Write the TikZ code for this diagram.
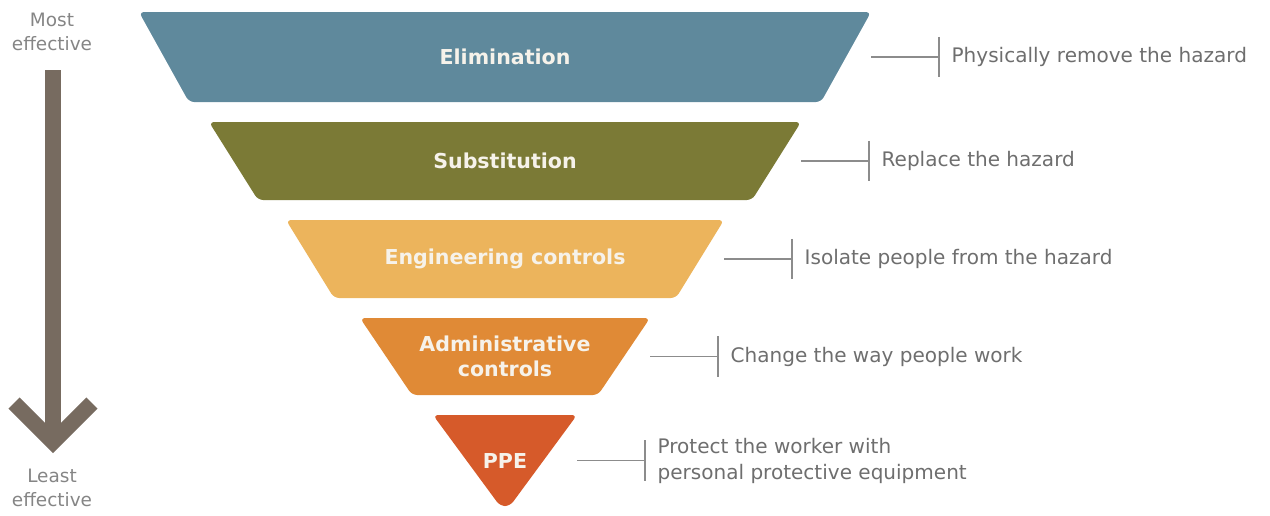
\documentclass[tikz,border=0pt]{standalone}
\usepackage{fontspec}
\setmainfont{DejaVu Sans}
\usetikzlibrary{positioning}

\definecolor{elimblue}{HTML}{5F899C}
\definecolor{substolive}{HTML}{7B7A36}
\definecolor{engamber}{HTML}{ECB45C}
\definecolor{adminorange}{HTML}{E08A36}
\definecolor{ppered}{HTML}{D65A2A}
\definecolor{arrowbrown}{HTML}{776B60}
\definecolor{hintgray}{HTML}{6E6E6E}
\definecolor{sidegray}{HTML}{858585}
\definecolor{linegray}{HTML}{8C8C8C}
\definecolor{labelwhite}{HTML}{F6F2EA}

\tikzset{
    level/.style={font=\fontsize{11.7}{14.5}\selectfont\bfseries, text=labelwhite, align=center},
    hint/.style={font=\fontsize{11.4}{14.8}\selectfont, text=hintgray, align=left, anchor=west, inner sep=0pt},
    side/.style={font=\fontsize{10.5}{14}\selectfont, text=sidegray, align=center},
    bracket/.style={draw=linegray, line width=0.8pt},
}

\begin{document}
\begin{tikzpicture}[x=0.02cm, y=-0.02cm]
        \useasboundingbox (0,0) rectangle (1270,515);

        % effectiveness arrow
        \node[side] (most) at (52,32) {Most\\effective};
        \node[side] (least) at (52,488) {Least\\effective};
        \coordinate (shafttop) at (53,70);
        \coordinate (shaftend) at (53,442);
        \coordinate (headleft) at (14,403);
        \coordinate (headright) at (92,403);
        \draw[arrowbrown, line width=9pt] (shafttop) -- (shaftend);
        \draw[arrowbrown, line width=9pt, miter limit=4] (headleft) -- (shaftend) -- (headright);

        % levels of the pyramid
        \foreach \nm/\ya/\yb/\wa/\wb/\fillc/\lbl/\desc in {
            elim/12/102/366/316/elimblue/Elimination/Physically remove the hazard,
            subst/122/200/296/247/substolive/Substitution/Replace the hazard,
            eng/220/298/219/171/engamber/Engineering controls/Isolate people from the hazard,
            admin/318/395/145/93/adminorange/{Administrative\\controls}/Change the way people work,
            ppe/415/506/72/5/ppered/PPE/{Protect the worker with\\personal protective equipment}} {
            \fill[\fillc, rounded corners=3pt] (505-\wa,\ya) -- (505+\wa,\ya) -- (505+\wb,\yb) -- (505-\wb,\yb) -- cycle;
            \node[level] (\nm) at (505,{(\ya+\yb)/2}) {\lbl};
            \coordinate (\nm-r) at (505+\wa,{(\ya+\yb)/2});
            \coordinate (\nm-t) at (573+\wa,{(\ya+\yb)/2});
            \draw[bracket] (\nm-r) -- (\nm-t);
            \draw[bracket] ([yshift=11.5pt]\nm-t) -- ([yshift=-11.5pt]\nm-t);
            \node[hint, right=7pt of \nm-t] (\nm-h) {\desc};
        }
    \end{tikzpicture}
\end{document}
